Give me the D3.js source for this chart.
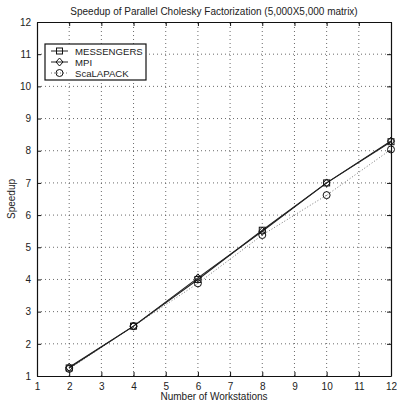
<!DOCTYPE html>
<html>
<head>
<meta charset="utf-8">
<script src="https://d3js.org/d3.v7.min.js"></script>
<style>
body { margin: 0; background: #fff; }
text { font-family: "Liberation Sans", Arial, sans-serif; fill: #222; }
.grid line { stroke: #444; stroke-dasharray: 1,3; stroke-width: 0.8; }
</style>
</head>
<body>
<script>
var workstations = [2, 4, 6, 8, 10, 12];
var messengers = [1.25, 2.55, 4.0, 5.53, 7.0, 8.28];
var mpi = [1.27, 2.55, 4.05, 5.5, 7.0, 8.3];
var scalapack = [1.22, 2.55, 3.88, 5.38, 6.62, 8.04];
var xTicks = [1,2,3,4,5,6,7,8,9,10,11,12];
var yTicks = [1,2,3,4,5,6,7,8,9,10,11,12];

var width = 397, height = 404;
var margin = {top: 22, right: 6, bottom: 28, left: 37};
var svg = d3.select("body").append("svg")
    .attr("width", width).attr("height", height);

var x = d3.scaleLinear().domain([1, 12]).range([margin.left, width - margin.right]);
var y = d3.scaleLinear().domain([1, 12]).range([height - margin.bottom, margin.top]);

// grid
var grid = svg.append("g").attr("class", "grid");
grid.selectAll("line.v").data(xTicks.slice(1, -1)).enter().append("line")
    .attr("x1", d => x(d)).attr("x2", d => x(d))
    .attr("y1", y(1)).attr("y2", y(12));
grid.selectAll("line.h").data(yTicks.slice(1, -1)).enter().append("line")
    .attr("x1", x(1)).attr("x2", x(12))
    .attr("y1", d => y(d)).attr("y2", d => y(d));

// axes with inward ticks
svg.append("g").attr("transform", "translate(0," + y(1) + ")")
    .call(d3.axisBottom(x).tickValues(xTicks).tickSizeInner(-4).tickSizeOuter(0).tickPadding(7))
    .call(g => g.selectAll("text").attr("font-size", 10));
svg.append("g").attr("transform", "translate(0," + y(12) + ")")
    .call(d3.axisTop(x).tickValues(xTicks).tickSizeInner(-4).tickSizeOuter(0).tickFormat(""));
svg.append("g").attr("transform", "translate(" + x(1) + ",0)")
    .call(d3.axisLeft(y).tickValues(yTicks).tickSizeInner(-4).tickSizeOuter(0).tickPadding(6))
    .call(g => g.selectAll("text").attr("font-size", 10));
svg.append("g").attr("transform", "translate(" + x(12) + ",0)")
    .call(d3.axisRight(y).tickValues(yTicks).tickSizeInner(-4).tickSizeOuter(0).tickFormat(""));
svg.selectAll(".domain").attr("stroke", "#111").attr("stroke-width", 1.2);
svg.selectAll(".tick line").attr("stroke", "#111");
svg.selectAll(".tick text").attr("fill", "#333");

// lines
var series = [
  {name: "MESSENGERS", vals: messengers, dash: null, color: "#222", marker: "square"},
  {name: "MPI", vals: mpi, dash: null, color: "#222", marker: "diamond"},
  {name: "ScaLAPACK", vals: scalapack, dash: "1,2", color: "#777", marker: "circle"}
];
var line = d3.line().x((d, i) => x(workstations[i])).y(d => y(d));

function drawMarker(g, type, cx, cy) {
  if (type === "square") {
    g.append("rect").attr("x", cx - 3).attr("y", cy - 3).attr("width", 6).attr("height", 6)
      .attr("fill", "none").attr("stroke", "#111").attr("stroke-width", 1);
  } else if (type === "diamond") {
    g.append("path").attr("d", "M" + cx + "," + (cy - 4) + "L" + (cx + 3.5) + "," + cy + "L" + cx + "," + (cy + 4) + "L" + (cx - 3.5) + "," + cy + "Z")
      .attr("fill", "none").attr("stroke", "#111").attr("stroke-width", 1);
  } else {
    g.append("circle").attr("cx", cx).attr("cy", cy).attr("r", 3.5)
      .attr("fill", "none").attr("stroke", "#111").attr("stroke-width", 1);
  }
}

series.slice().reverse().forEach(function(s) {
  svg.append("path").datum(s.vals).attr("d", line)
    .attr("fill", "none").attr("stroke", s.color).attr("stroke-width", s.dash ? 1 : 1.1)
    .attr("stroke-dasharray", s.dash);
});
series.forEach(function(s) {
  var g = svg.append("g");
  s.vals.forEach(function(v, i) { drawMarker(g, s.marker, x(workstations[i]), y(v)); });
});

// legend
var lg = svg.append("g");
lg.append("rect").attr("x", 45).attr("y", 44).attr("width", 101).attr("height", 36)
  .attr("fill", "#fff").attr("stroke", "#111").attr("stroke-width", 1.2);
series.forEach(function(s, i) {
  var ly = 51 + i * 11;
  lg.append("line").attr("x1", 51).attr("x2", 68).attr("y1", ly).attr("y2", ly)
    .attr("stroke", s.color).attr("stroke-width", 1).attr("stroke-dasharray", s.dash);
  drawMarker(lg, s.marker, 59.5, ly);
  lg.append("text").attr("x", 75).attr("y", ly + 3.5).attr("font-size", 9.6).text(s.name);
});

// titles
svg.append("text").attr("x", 214).attr("y", 15).attr("text-anchor", "middle")
  .attr("font-size", 10).text("Speedup of Parallel Cholesky Factorization (5,000X5,000 matrix)");
svg.append("text").attr("x", 214).attr("y", 400).attr("text-anchor", "middle")
  .attr("font-size", 10).text("Number of Workstations");
svg.append("text").attr("transform", "translate(15," + y(6.5) + ") rotate(-90)")
  .attr("text-anchor", "middle").attr("font-size", 10).text("Speedup");
</script>
</body>
</html>
